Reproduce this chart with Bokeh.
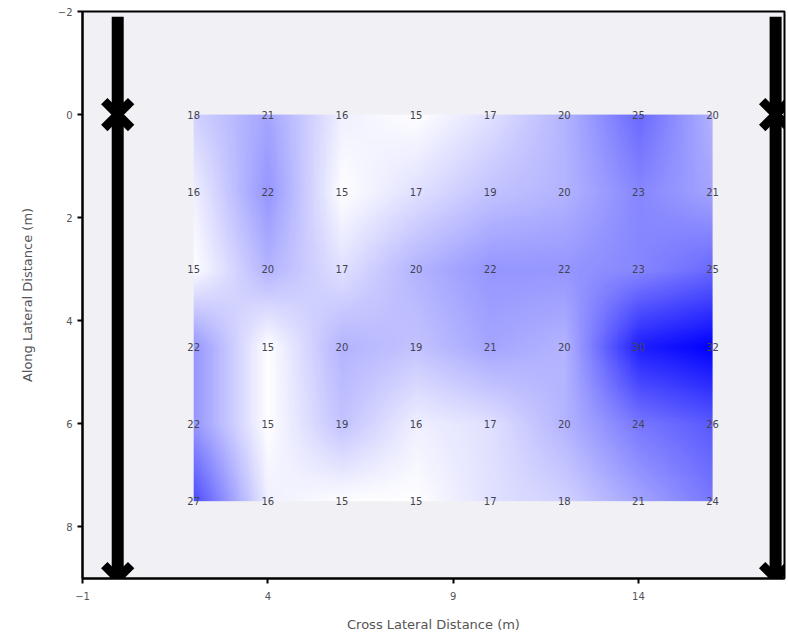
import numpy as np
from bokeh.plotting import figure
from bokeh.models import Range1d, FixedTicker, ColumnDataSource
from bokeh.core.properties import value
from bokeh.embed import file_html
from bokeh.resources import INLINE

# ---- data ----
cross_x = [2, 4, 6, 8, 10, 12, 14, 16]
along_y = [0, 1.5, 3, 4.5, 6, 7.5]
values = [
    [18, 21, 16, 15, 17, 20, 25, 20],
    [16, 22, 15, 17, 19, 20, 23, 21],
    [15, 20, 17, 20, 22, 22, 23, 25],
    [22, 15, 20, 19, 21, 20, 30, 32],
    [22, 15, 19, 16, 17, 20, 24, 26],
    [27, 16, 15, 15, 17, 18, 21, 24],
]
rail_x = [-0.05, 17.7]
rail_y0 = [-1.9, -1.9]
rail_y1 = [9, 9]
marker_x = [-0.05, -0.05, 17.7, 17.7]
marker_y = [0, 9, 0, 9]
x_ticks = [-1, 4, 9, 14]
y_ticks = [-2, 0, 2, 4, 6, 8]
vmin, vmax = 15, 32

# ---- rendered image (bilinear resampling of the grid for display) ----
V = np.array(values, dtype=float)
gx = np.array(cross_x, dtype=float)
gy = np.array(along_y, dtype=float)
NX, NY = 280, 200
sx = gx[0] + (np.arange(NX) + 0.5) * (gx[-1] - gx[0]) / NX
sy = gy[0] + (np.arange(NY) + 0.5) * (gy[-1] - gy[0]) / NY
tmp = np.array([np.interp(sx, gx, row) for row in V])
img = np.array([np.interp(sy, gy, tmp[:, j]) for j in range(NX)]).T
frac = np.clip((img - vmin) / (vmax - vmin), 0, 1)
rgba = np.zeros((NY, NX), dtype=np.uint32)
view = rgba.view(dtype=np.uint8).reshape((NY, NX, 4))
rg = (255 * (1 - frac)).astype(np.uint8)
view[:, :, 0] = rg
view[:, :, 1] = rg
view[:, :, 2] = 255
view[:, :, 3] = 255

p = figure(width=786, height=634, output_backend="svg", toolbar_location=None,
           x_range=Range1d(-1, 17.94), y_range=Range1d(9, -2),
           min_border_left=82, min_border_right=2, min_border_top=11, min_border_bottom=50)
p.background_fill_color = "#f1f1f5"
p.border_fill_color = "white"
p.outline_line_color = "black"
p.outline_line_width = 2
p.xgrid.visible = False
p.ygrid.visible = False

p.image_rgba(image=[rgba], x=gx[0], y=gy[0], dw=gx[-1] - gx[0], dh=gy[-1] - gy[0])

lx, ly, lt = [], [], []
for i, yy in enumerate(along_y):
    for j, xx in enumerate(cross_x):
        lx.append(xx); ly.append(yy); lt.append(str(values[i][j]))
src = ColumnDataSource(dict(x=lx, y=ly, t=lt))
p.text(x="x", y="y", text="t", source=src, text_align="center", text_baseline="middle",
       text_font=value("DejaVu Sans"), text_font_size="10px", text_color="#44444f")

p.segment(x0=rail_x, y0=rail_y0, x1=rail_x, y1=rail_y1, line_color="black", line_width=12)
p.scatter(x=marker_x, y=marker_y, marker="x", size=38, line_color="black", line_width=9)

for ax in (p.xaxis[0], p.yaxis[0]):
    ax.minor_tick_line_color = None
    ax.axis_line_color = "black"
    ax.axis_line_width = 2
    ax.major_tick_line_color = "black"
    ax.major_tick_line_width = 2
    ax.major_tick_out = 5
    ax.major_tick_in = 0
    ax.major_label_text_font = "DejaVu Sans"
    ax.major_label_text_font_size = "10px"
    ax.major_label_text_color = "#555555"
    ax.axis_label_text_font = "DejaVu Sans"
    ax.axis_label_text_font_size = "13px"
    ax.axis_label_text_font_style = "normal"
    ax.axis_label_text_color = "#555555"

p.xaxis.ticker = FixedTicker(ticks=x_ticks)
p.yaxis.ticker = FixedTicker(ticks=y_ticks)
p.xaxis.major_label_standoff = 8
p.xaxis.axis_label = "Cross Lateral Distance (m)"
p.yaxis.axis_label = "Along Lateral Distance (m)"
p.yaxis.axis_label_standoff = 20
p.xaxis.axis_label_standoff = 14

open("out.html", "w").write(file_html(p, INLINE))
